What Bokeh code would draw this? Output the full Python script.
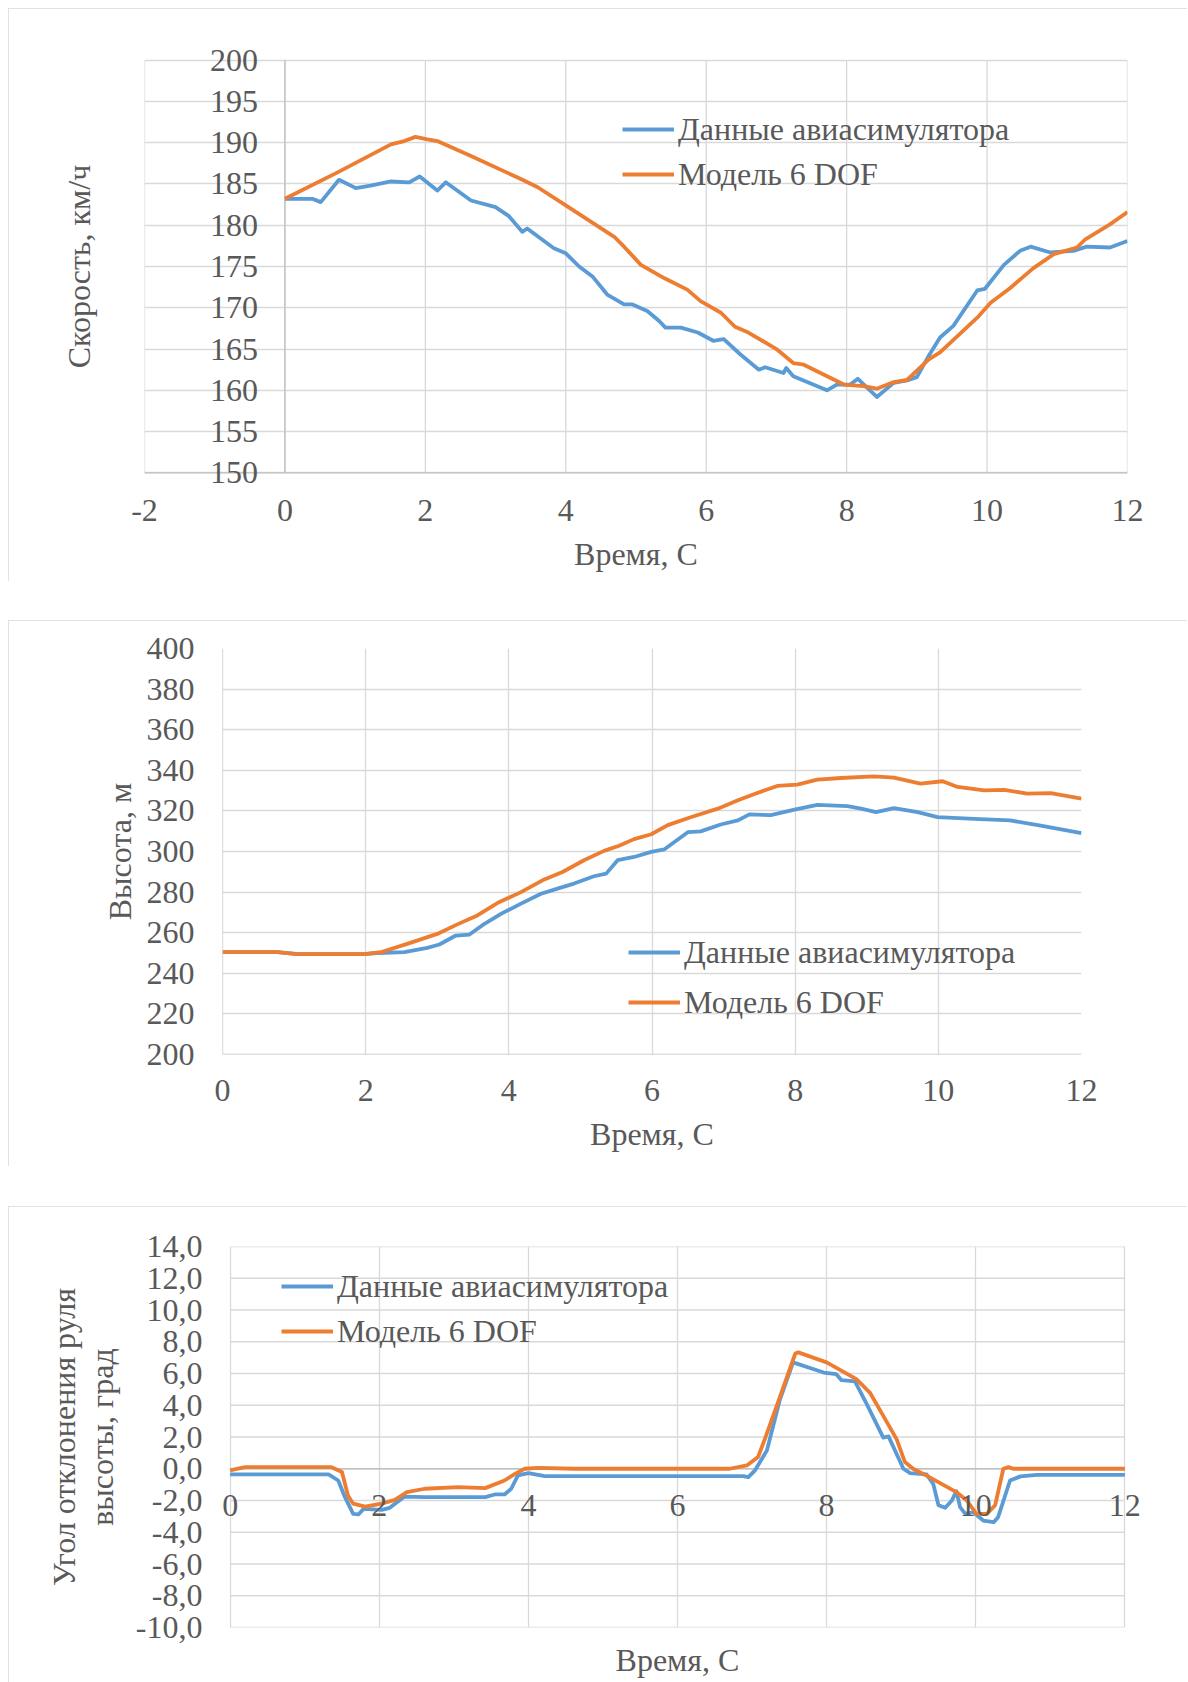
from bokeh.plotting import figure
from bokeh.layouts import column
from bokeh.models import (Range1d, FixedTicker, Span, Legend, LegendItem,
                          LabelSet, ColumnDataSource)
from bokeh.embed import file_html
from bokeh.resources import INLINE

# ---------------- data ----------------
# Chart 1: speed, km/h
speed_sim_t = [0, 0.39, 0.51, 0.77, 1.01, 1.22, 1.51, 1.77, 1.92, 2.17, 2.29, 2.65, 3.0,
               3.19, 3.38, 3.45, 3.83, 4.0, 4.19, 4.38, 4.59, 4.83, 4.95, 5.16, 5.33, 5.42,
               5.64, 5.88, 6.1, 6.25, 6.48, 6.75, 6.84, 7.10, 7.14, 7.24, 7.72, 7.86, 8.05,
               8.16, 8.43, 8.67, 8.86, 9.0, 9.17, 9.33, 9.52, 9.86, 9.97, 10.24, 10.47,
               10.62, 10.9, 11.23, 11.42, 11.75, 12.0]
speed_sim_v = [183.2, 183.2, 182.8, 185.5, 184.5, 184.8, 185.3, 185.2, 185.9, 184.2, 185.2,
               183.0, 182.2, 181.1, 179.2, 179.6, 177.2, 176.6, 175.0, 173.8, 171.6, 170.4,
               170.4, 169.6, 168.4, 167.6, 167.6, 167.0, 166.0, 166.2, 164.4, 162.5, 162.8,
               162.1, 162.7, 161.7, 160.0, 160.7, 160.7, 161.4, 159.2, 160.9, 161.2, 161.6,
               164.2, 166.4, 167.8, 172.1, 172.3, 175.2, 176.9, 177.4, 176.7, 176.9, 177.4,
               177.3, 178.1]
speed_mod_t = [0, 0.75, 1.51, 1.70, 1.86, 2.03, 2.17, 2.65, 3.36, 3.6, 4.0, 4.69, 4.83, 5.07,
               5.4, 5.73, 5.92, 6.21, 6.41, 6.6, 7.0, 7.24, 7.39, 7.96, 8.24, 8.43, 8.67,
               8.86, 9.17, 9.33, 9.86, 10.05, 10.33, 10.66, 10.95, 11.28, 11.4, 11.75, 12.0]
speed_mod_v = [183.2, 186.4, 189.8, 190.2, 190.7, 190.4, 190.2, 188.4, 185.6, 184.6, 182.4,
               178.6, 177.4, 175.2, 173.6, 172.2, 170.8, 169.4, 167.7, 167.0, 165.0, 163.3,
               163.1, 160.7, 160.5, 160.2, 161.0, 161.25, 163.75, 164.6, 168.8, 170.6, 172.4,
               174.8, 176.5, 177.3, 178.3, 180.1, 181.6]
speed_ticks = [150, 155, 160, 165, 170, 175, 180, 185, 190, 195, 200]
speed_tick_labels = ["150", "155", "160", "165", "170", "175", "180", "185", "190", "195", "200"]
time_ticks_1 = [-2, 0, 2, 4, 6, 8, 10, 12]
time_tick_labels_1 = ["-2", "0", "2", "4", "6", "8", "10", "12"]

# Chart 2: altitude, m
alt_sim_t = [0, 0.77, 1.05, 1.98, 2.17, 2.54, 2.86, 3.03, 3.26, 3.45, 3.66, 3.89, 4.17, 4.45,
             4.68, 4.91, 5.19, 5.36, 5.52, 5.75, 5.99, 6.17, 6.5, 6.68, 6.96, 7.2, 7.36, 7.66,
             7.99, 8.31, 8.73, 8.92, 9.13, 9.38, 9.71, 9.99, 10.5, 11.0, 11.43, 12.0]
alt_sim_h = [250.4, 250.4, 249.4, 249.4, 250.0, 250.4, 252.5, 254.2, 258.6, 259.1, 264.4,
             269.3, 274.3, 279.2, 281.7, 284.2, 287.8, 289.1, 295.7, 297.3, 299.8, 301.0,
             309.5, 309.9, 313.3, 315.3, 318.3, 317.9, 320.6, 323.0, 322.4, 321.1, 319.4,
             321.4, 319.4, 316.9, 316.1, 315.3, 312.8, 309.0]
alt_mod_t = [0, 0.77, 1.05, 1.98, 2.21, 2.58, 3.0, 3.28, 3.56, 3.84, 4.17, 4.47, 4.75, 5.05,
             5.33, 5.54, 5.75, 5.99, 6.22, 6.54, 6.92, 7.2, 7.47, 7.75, 8.03, 8.31, 8.64, 9.1,
             9.38, 9.75, 10.06, 10.27, 10.64, 10.92, 11.24, 11.57, 12.0]
alt_mod_h = [250.4, 250.4, 249.4, 249.4, 250.4, 254.5, 259.4, 264.1, 268.5, 274.6, 280.0,
             285.8, 289.9, 295.7, 300.3, 302.8, 306.1, 308.5, 313.0, 316.9, 321.1, 325.2,
             328.8, 332.3, 332.9, 335.4, 336.2, 337.0, 336.4, 333.4, 334.6, 331.8, 330.1,
             330.4, 328.5, 328.8, 326.0]
alt_ticks = [200, 220, 240, 260, 280, 300, 320, 340, 360, 380, 400]
time_ticks_2 = [0, 2, 4, 6, 8, 10, 12]

# Chart 3: elevator deflection, deg
elev_sim_t = [0, 1.32, 1.45, 1.54, 1.65, 1.72, 1.79, 2.03, 2.14, 2.34, 2.61, 3.42, 3.55, 3.68,
              3.77, 3.86, 4.0, 4.22, 6.88, 6.95, 7.04, 7.2, 7.37, 7.55, 7.96, 8.13, 8.2, 8.38,
              8.54, 8.76, 8.83, 9.03, 9.12, 9.34, 9.43, 9.5, 9.59, 9.68, 9.74, 9.79, 9.86,
              9.97, 10.1, 10.24, 10.3, 10.46, 10.6, 10.82, 12.0]
elev_sim_v = [-0.35, -0.35, -0.74, -1.79, -2.84, -2.88, -2.53, -2.59, -2.46, -1.75, -1.79,
              -1.79, -1.62, -1.62, -1.26, -0.42, -0.27, -0.46, -0.46, -0.53, -0.1, 1.16, 4.3,
              6.7, 6.06, 5.96, 5.58, 5.5, 4.06, 1.96, 2.04, 0.0, -0.27, -0.36, -0.95, -2.3,
              -2.46, -2.0, -1.41, -2.42, -2.84, -2.74, -3.26, -3.37, -3.05, -0.74, -0.48,
              -0.38, -0.38]
elev_mod_t = [0, 0.2, 1.36, 1.5, 1.58, 1.65, 1.81, 2.03, 2.21, 2.37, 2.61, 3.06, 3.42, 3.68,
              3.82, 3.95, 4.13, 4.62, 6.7, 6.93, 7.08, 7.17, 7.37, 7.58, 7.62, 8.0, 8.4, 8.58,
              8.76, 8.94, 9.05, 9.16, 9.36, 9.74, 9.88, 10.01, 10.15, 10.26, 10.37, 10.44,
              10.5, 12.0]
elev_mod_v = [-0.1, 0.1, 0.1, -0.2, -1.68, -2.2, -2.38, -2.2, -1.96, -1.47, -1.26, -1.16,
              -1.22, -0.74, -0.32, 0.0, 0.06, 0.0, 0.0, 0.21, 0.74, 1.85, 4.48, 7.26, 7.33,
              6.7, 5.64, 4.8, 3.33, 1.85, 0.42, 0.0, -0.48, -1.47, -2.0, -2.84, -2.84, -2.3,
              0.0, 0.1, 0.0, 0.0]
elev_ticks = [-10, -8, -6, -4, -2, 0, 2, 4, 6, 8, 10, 12, 14]
elev_tick_labels = ["-10,0", "-8,0", "-6,0", "-4,0", "-2,0", "0,0", "2,0", "4,0", "6,0",
                    "8,0", "10,0", "12,0", "14,0"]
time_ticks_3 = [0, 2, 4, 6, 8, 10, 12]
time_tick_labels_3 = ["0", "2", "4", "6", "8", "10", "12"]

series_names = ["Данные авиасимулятора", "Модель 6 DOF"]

# ---------------- style ----------------
FONT = "Liberation Serif"
TXT = "#595959"
GRID = "#d9d9d9"
AXIS = "#bfbfbf"
BLUE = "#5B9BD5"
ORANGE = "#ED7D31"
FS = "32px"
LW = 3.8


def base(width, height, margin, xr, yr, left, right, top, bottom):
    p = figure(width=width, height=height, x_range=Range1d(*xr), y_range=Range1d(*yr),
               output_backend="svg", toolbar_location=None,
               min_border_left=left, min_border_right=right,
               min_border_top=top, min_border_bottom=bottom,
               margin=margin, outline_line_color=None, frame_align=False,
               background_fill_color="white", border_fill_color="white",
               styles={"outline": "1px solid #d9d9d9", "outline-offset": "-1px"})
    for g in (p.xgrid[0], p.ygrid[0]):
        g.grid_line_color = GRID
        g.grid_line_width = 1.3
    for ax in (p.xaxis[0], p.yaxis[0]):
        ax.axis_line_color = None
        ax.major_tick_line_color = None
        ax.minor_tick_line_color = None
        ax.major_tick_out = 0
        ax.major_tick_in = 0
        ax.major_label_text_font = FONT
        ax.major_label_text_font_size = FS
        ax.major_label_text_color = TXT
        ax.axis_label_text_font = FONT
        ax.axis_label_text_font_size = FS
        ax.axis_label_text_color = TXT
        ax.axis_label_text_font_style = "normal"
    return p


def add_series(p, sim_t, sim_v, mod_t, mod_v, loc, spacing):
    r1 = p.line(sim_t, sim_v, line_color=BLUE, line_width=LW, line_join="round")
    r2 = p.line(mod_t, mod_v, line_color=ORANGE, line_width=LW, line_join="round")
    leg = Legend(items=[LegendItem(label=series_names[0], renderers=[r1]),
                        LegendItem(label=series_names[1], renderers=[r2])],
                 location=loc, orientation="vertical",
                 label_text_font=FONT, label_text_font_size=FS, label_text_color=TXT,
                 glyph_width=52, glyph_height=38, label_height=38, label_standoff=4,
                 spacing=spacing, padding=0, margin=0,
                 border_line_color=None, background_fill_alpha=0)
    p.add_layout(leg)


# ---------------- chart 1 ----------------
p1 = base(1179, 573, (8, 0, 0, 8), (-2, 12), (147.5, 202.5), 136, 60, 31, 88)
p1.xaxis.ticker = FixedTicker(ticks=time_ticks_1)
p1.xaxis.major_label_overrides = {t: s for t, s in zip(time_ticks_1, time_tick_labels_1)}
p1.xgrid.grid_line_color = None
p1.yaxis.ticker = FixedTicker(ticks=[])
p1.ygrid.ticker = FixedTicker(ticks=speed_ticks)
p1.xaxis.major_label_standoff = 6
p1.xaxis.axis_label = "Время, С"
p1.xaxis.axis_label_standoff = 12
p1.yaxis.axis_label = "Скорость, км/ч"
p1.yaxis.axis_label_standoff = 48
n1 = len(time_ticks_1)
p1.segment(x0=time_ticks_1, y0=[speed_ticks[0]] * n1, x1=time_ticks_1, y1=[speed_ticks[-1]] * n1,
           line_color=GRID, line_width=1.3)
p1.segment(x0=[0], y0=[speed_ticks[0]], x1=[0], y1=[speed_ticks[-1]], line_color=AXIS, line_width=1.3)
p1.add_layout(Span(location=speed_ticks[0], dimension="width", line_color=AXIS, line_width=1.3))
lab1 = ColumnDataSource(dict(x=[0] * len(speed_ticks), y=speed_ticks, text=speed_tick_labels))
p1.add_layout(LabelSet(x="x", y="y", text="text", source=lab1, x_offset=-27,
                       text_align="right", text_baseline="middle", text_font=FONT,
                       text_font_size=FS, text_color=TXT))
add_series(p1, speed_sim_t, speed_sim_v, speed_mod_t, speed_mod_v, (478, 300), 7)

# ---------------- chart 2 ----------------
p2 = base(1179, 546, (39, 0, 0, 8), (0, 12), (200, 400), 214, 106, 28, 112)
p2.xaxis.ticker = FixedTicker(ticks=time_ticks_2)
p2.xgrid.ticker = FixedTicker(ticks=time_ticks_2)
p2.yaxis.ticker = FixedTicker(ticks=alt_ticks)
p2.ygrid.ticker = FixedTicker(ticks=alt_ticks)
p2.xaxis.major_label_standoff = 25
p2.yaxis.major_label_standoff = 28
p2.xaxis.axis_label = "Время, С"
p2.xaxis.axis_label_standoff = 12
p2.yaxis.axis_label = "Высота, м"
p2.yaxis.axis_label_standoff = 6
p2.add_layout(Span(location=200, dimension="width", line_color=AXIS, line_width=1.3))
p2.add_layout(Span(location=0, dimension="height", line_color=AXIS, line_width=1.3))
add_series(p2, alt_sim_t, alt_sim_h, alt_mod_t, alt_mod_h, (406, 33), 12)

# ---------------- chart 3 ----------------
p3 = base(1179, 476, (40, 0, 0, 8), (-0.25, 12.25), (-10, 14), 203, 44, 40, 55)
p3.xaxis.ticker = FixedTicker(ticks=[])
p3.xgrid.ticker = FixedTicker(ticks=time_ticks_3)
p3.ygrid.grid_line_color = None
p3.yaxis.ticker = FixedTicker(ticks=elev_ticks)
p3.yaxis.major_label_overrides = {t: s for t, s in zip(elev_ticks, elev_tick_labels)}
p3.yaxis.major_label_standoff = 9
p3.xaxis.axis_label = "Время, С"
p3.xaxis.axis_label_standoff = 14
p3.yaxis.axis_label = "Угол отклонения руля\nвысоты, град"
p3.yaxis.axis_label_standoff = 13
p3.yaxis.axis_label_text_line_height = 1.05
n3 = len(elev_ticks)
p3.segment(x0=[time_ticks_3[0]] * n3, y0=elev_ticks, x1=[time_ticks_3[-1]] * n3, y1=elev_ticks,
           line_color=GRID, line_width=1.3)
p3.segment(x0=[time_ticks_3[0]], y0=[0], x1=[time_ticks_3[-1]], y1=[0], line_color=AXIS,
           line_width=1.3)
add_series(p3, elev_sim_t, elev_sim_v, elev_mod_t, elev_mod_v, (70, 277), 7)
lab3 = ColumnDataSource(dict(x=time_ticks_3, y=[0] * len(time_ticks_3), text=time_tick_labels_3))
p3.add_layout(LabelSet(x="x", y="y", text="text", source=lab3, y_offset=-26,
                       text_align="center", text_baseline="top", text_font=FONT,
                       text_font_size=FS, text_color=TXT))

layout = column(p1, p2, p3, spacing=0)
open("out.html", "w").write(file_html(layout, INLINE))
